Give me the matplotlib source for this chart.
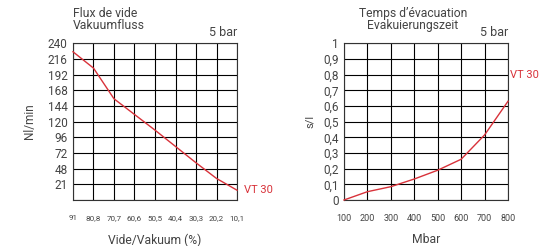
import matplotlib
matplotlib.use("Agg")
import matplotlib.pyplot as plt

plt.rcParams['font.family'] = ['Roboto', 'DejaVu Sans']

# left chart: vacuum flow
vac_labels = ['91', '80,8', '70,7', '60,6', '50,5', '40,4', '30,3', '20,2', '10,1']
flow_ticks = ['', '21', '48', '72', '96', '120', '144', '168', '192', '216', '240']
flow = [227, 202, 155, 131, 107, 82, 57, 33, 15]

# right chart: evacuation time
mbar = [100, 200, 300, 400, 500, 600, 700, 800]
evac = [0.0, 0.053, 0.085, 0.134, 0.19, 0.26, 0.415, 0.63]
evac_ticks = ['0', '0,1', '0,2', '0,3', '0,4', '0,5', '0,6', '0,7', '0,8', '0,9', '1']

red = '#d8323a'
txt = '#444444'

fig = plt.figure(figsize=(5.48, 2.46), dpi=100)
ax1 = fig.add_axes([0.1332, 0.187, 0.2993, 0.637])
ax2 = fig.add_axes([0.6277, 0.187, 0.2993, 0.637])

# left
xs = list(range(len(vac_labels)))
ax1.plot(xs, flow, color=red, lw=1.0, clip_on=False, zorder=3)
ax1.set_xlim(0, 8)
ax1.set_ylim(0, 240)
ax1.set_xticks(xs)
ax1.set_xticklabels(vac_labels, fontsize=5.8, color=txt)
ax1.set_yticks(range(0, 241, 24))
ax1.set_yticklabels(flow_ticks, fontsize=8.5, color=txt)
ax1.tick_params(axis='x', length=0, pad=11)
ax1.tick_params(axis='y', length=0, pad=4)
ax1.set_ylabel('Nl/min', fontsize=8.5, color=txt, labelpad=8)
ax1.set_xlabel('Vide/Vakuum (%)', fontsize=8.7, color=txt, labelpad=9)
ax1.text(0.0, 1.07, 'Flux de vide\nVakuumfluss', transform=ax1.transAxes,
         fontsize=8.8, color=txt, ha='left', va='bottom', linespacing=0.95)
ax1.text(1.0, 1.03, '5 bar', transform=ax1.transAxes, fontsize=9,
         color=txt, ha='right', va='bottom')
ax1.text(1.04, 15, 'VT 30', transform=ax1.get_yaxis_transform(),
         fontsize=8, color=red, ha='left', va='center')

# right
ax2.plot(mbar, evac, color=red, lw=1.0, clip_on=False, zorder=3)
ax2.set_xlim(100, 800)
ax2.set_ylim(0, 1)
ax2.set_xticks(mbar)
ax2.set_xticklabels([str(m) for m in mbar], fontsize=6.5, color=txt)
ax2.set_yticks([i / 10 for i in range(11)])
ax2.set_yticklabels(evac_ticks, fontsize=8.5, color=txt)
ax2.tick_params(axis='x', length=0, pad=10)
ax2.tick_params(axis='y', length=0, pad=4)
ax2.set_ylabel('s/l', fontsize=8, color=txt, labelpad=6)
ax2.set_xlabel('Mbar', fontsize=8.7, color=txt, labelpad=7)
ax2.text(0.42, 1.07, 'Temps d\u2019\u00e9vacuation\nEvakuierungszeit',
         transform=ax2.transAxes, fontsize=8.7, color=txt, ha='center',
         va='bottom', linespacing=0.95)
ax2.text(1.0, 1.03, '5 bar', transform=ax2.transAxes, fontsize=9,
         color=txt, ha='right', va='bottom')
ax2.text(1.01, 0.8, 'VT 30', transform=ax2.get_yaxis_transform(),
         fontsize=8, color=red, ha='left', va='center')

for ax in (ax1, ax2):
    ax.grid(True, color='black', lw=0.8)
    for s in ax.spines.values():
        s.set_color('#333333')
        s.set_linewidth(0.8)
    ax.set_axisbelow(True)

fig.savefig('out.png', dpi=100)
